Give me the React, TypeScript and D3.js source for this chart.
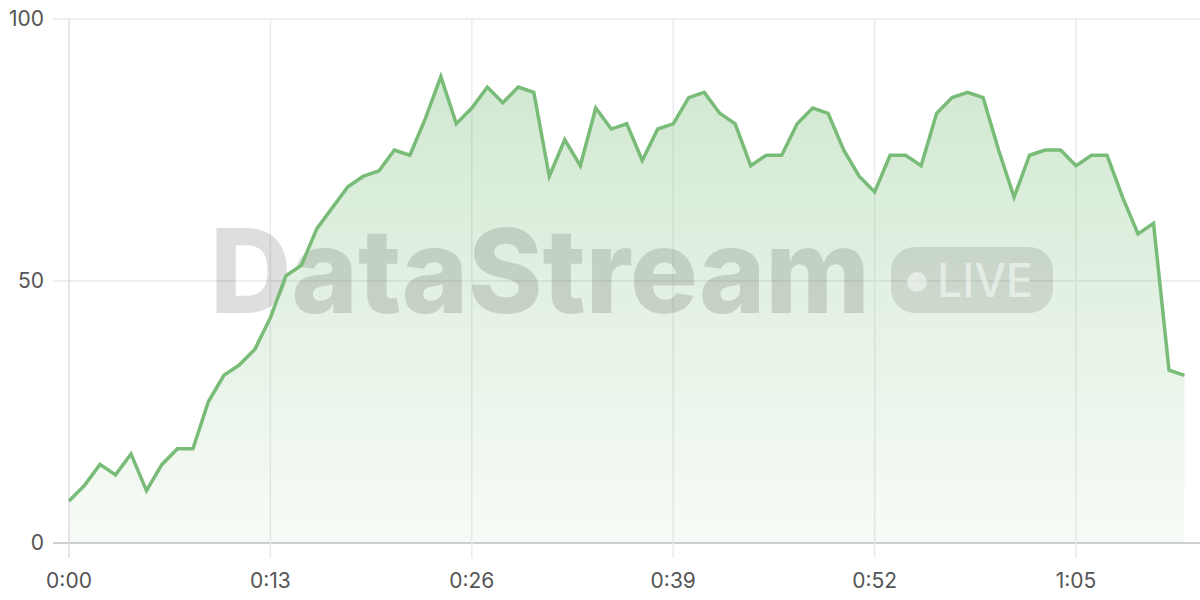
import React from "react";
import * as d3 from "d3";

const seconds: number[] = Array.from({ length: 73 }, (_, i) => i);
const values: number[] = [
  8, 11, 15, 13, 17, 10, 15, 18, 18, 27,
  32, 34, 37, 43, 51, 53, 60, 64, 68, 70,
  71, 75, 74, 81, 89, 80, 83, 87, 84, 87,
  86, 70, 77, 72, 83, 79, 80, 73, 79, 80,
  85, 86, 82, 80, 72, 74, 74, 80, 83, 82,
  75, 70, 67, 74, 74, 72, 82, 85, 86, 85,
  75, 66, 74, 75, 75, 72, 74, 74, 66, 59,
  61, 33, 32,
];
const xTicks: number[] = [0, 13, 26, 39, 52, 65];
const yTicks: number[] = [0, 50, 100];
const watermark = "DataStream";
const badgeText = "LIVE";

const fmt = (s: number) => `${Math.floor(s / 60)}:${String(s % 60).padStart(2, "0")}`;

export default function App() {
  const W = 1200, H = 600;
  const left = 69, right = 1200, top = 19, bottom = 543;
  const x = d3.scaleLinear().domain([0, 73]).range([left, right]);
  const y = d3.scaleLinear().domain([0, 100]).range([bottom, top]);
  const pts = seconds.map((s, i) => [s, values[i]] as [number, number]);
  const line = d3.line<[number, number]>().x(d => x(d[0])).y(d => y(d[1]))(pts) || "";
  const area = d3.area<[number, number]>().x(d => x(d[0])).y0(y(0)).y1(d => y(d[1]))(pts) || "";
  const font = "Inter, 'Noto Sans', sans-serif";
  return (
    <svg width={W} height={H} style={{ position: "absolute", left: 0, top: 0, background: "#fff" }}>
      <defs>
        <linearGradient id="ag" x1="0" y1="0" x2="0" y2="1">
          <stop offset="0%" stopColor="#78bc78" stopOpacity={0.34} />
          <stop offset="100%" stopColor="#78bc78" stopOpacity={0.06} />
        </linearGradient>
      </defs>
      {yTicks.map(t => (
        <line key={"gy" + t} x1={53} x2={right} y1={y(t)} y2={y(t)} stroke={t === 0 ? "#cfcfcf" : "#e8e8e8"} strokeWidth={t === 0 ? 2 : 1.5} />
      ))}
      {xTicks.map(t => (
        <line key={"gx" + t} x1={x(t)} x2={x(t)} y1={top} y2={558} stroke={t === 0 ? "#dcdcdc" : "#ebebeb"} strokeWidth={1.5} />
      ))}
      <path d={area} fill="url(#ag)" />
      <g>
        <text x={210} y={313} fontFamily={font} fontWeight={800} fontSize={117} fill="#000" fillOpacity={0.13} textLength={660} lengthAdjust="spacingAndGlyphs">{watermark}</text>
        <rect x={891} y={247} width={162} height={66} rx={24} fill="#000" fillOpacity={0.1} />
        <circle cx={917} cy={282} r={10} fill="#fff" fillOpacity={0.5} />
        <text x={937} y={297} fontFamily={font} fontWeight={500} fontSize={46} fill="#fff" fillOpacity={0.5} textLength={96} lengthAdjust="spacingAndGlyphs">{badgeText}</text>
      </g>
      <path d={line} fill="none" stroke="#78bc78" strokeWidth={3.5} strokeLinejoin="miter" />
      {yTicks.map(t => (
        <text key={"ly" + t} x={44} y={y(t)} dy="0.35em" textAnchor="end" fontFamily={font} fontSize={21} fill="#555">{t}</text>
      ))}
      {xTicks.map(t => (
        <text key={"lx" + t} x={x(t)} y={588} textAnchor="middle" fontFamily={font} fontSize={21} fill="#555">{fmt(t)}</text>
      ))}
    </svg>
  );
}
